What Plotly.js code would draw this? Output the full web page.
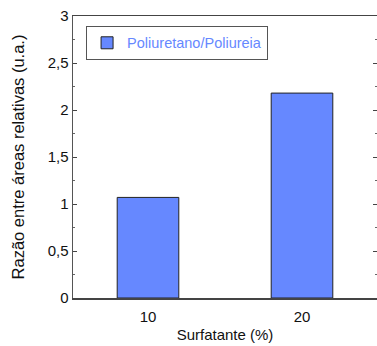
<!DOCTYPE html>
<html>
<head>
<meta charset="utf-8">
<script src="https://cdn.plot.ly/plotly-3.0.1.min.js"></script>
<style>html,body{margin:0;padding:0;background:#fff;}#chart{width:377px;height:346px;}</style>
</head>
<body>
<div id="chart"></div>
<script>
const surfactant = [10, 20];
const ratio = [1.07, 2.18];
const seriesName = 'Poliuretano/Poliureia';
const yTickVals = [0, 0.5, 1, 1.5, 2, 2.5, 3];
const yTickText = ['0', '0,5', '1', '1,5', '2', '2,5', '3'];
const xTickVals = [10, 20];
const xTickText = ['10', '20'];

const font = 'Liberation Sans, Arial, sans-serif';
const trace = {
  type: 'bar', x: surfactant, y: ratio, name: seriesName, width: 4,
  marker: {color: '#6688ff', line: {color: '#222', width: 1}},
  showlegend: true
};
const layout = {
  width: 377, height: 346,
  margin: {l: 73, r: 0, t: 16, b: 48},
  paper_bgcolor: '#fff', plot_bgcolor: '#fff',
  font: {family: font, size: 15, color: '#111'},
  separators: ', ',
  showlegend: true,
  legend: {x: 0.043, y: 0.965, xanchor: 'left', yanchor: 'top', bgcolor: '#fff',
           bordercolor: '#555', borderwidth: 1, font: {family: font, size: 14.5, color: '#6688ff'}},
  xaxis: {range: [5.13, 24.87], tickvals: xTickVals, ticktext: xTickText, ticks: '',
          ticklabelstandoff: 4,
          showgrid: false, zeroline: false, showline: true, linecolor: '#444', linewidth: 1.5,
          mirror: true, title: {text: 'Surfatante (%)', font: {family: font, size: 15}, standoff: 6},
          tickfont: {family: font, size: 15}},
  yaxis: {range: [0, 3], tickvals: yTickVals, ticktext: yTickText, ticks: 'inside', ticklen: 4,
          tickcolor: '#444', showgrid: false, zeroline: false, showline: true, linecolor: '#555',
          linewidth: 1.5, mirror: 'ticks',
          minor: {dtick: 0.25, ticks: 'inside', ticklen: 2, tickcolor: '#666'},
          title: {text: 'Razão entre áreas relativas (u.a.)', font: {family: font, size: 16.5}, standoff: 19},
          tickfont: {family: font, size: 15}}
};
Plotly.newPlot('chart', [trace], layout, {staticPlot: true, displayModeBar: false});
</script>
</body>
</html>
